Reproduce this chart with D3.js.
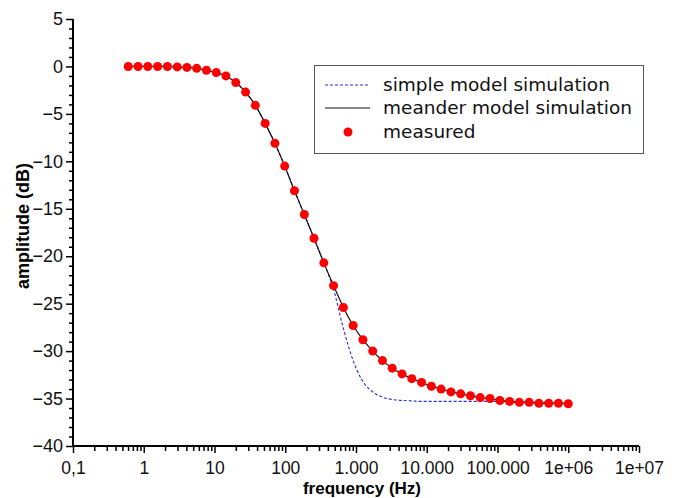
<!DOCTYPE html>
<html><head><meta charset="utf-8">
<script src="https://cdn.jsdelivr.net/npm/d3@7"></script>
<style>
html,body{margin:0;padding:0;background:#fff;}
svg{display:block;}
</style></head>
<body>
<svg id="chart" width="675" height="498"></svg>
<script>
// ---- data ----
const frequencies = [0.604, 0.830, 1.14, 1.57, 2.16, 2.97, 4.08, 5.60, 7.70, 10.6,
  14.5, 20.0, 27.5, 37.8, 52.0, 71.4, 98.2, 135, 186, 255,
  351, 482, 663, 911, 1253, 1722, 2366, 3252, 4474, 6150,
  8453, 11620, 15970, 21980, 30200, 41500, 57040, 78400, 107900, 148300,
  203700, 280000, 384900, 529600, 727800, 1000000];
const measured = [0, 0, 0, 0, 0, -0.05, -0.1, -0.2, -0.4, -0.65,
  -1.0, -1.7, -2.7, -4.1, -6.0, -8.1, -10.5, -13.1, -15.6, -18.1,
  -20.7, -23.1, -25.4, -27.3, -28.8, -30.0, -31.0, -31.8, -32.4, -32.9,
  -33.3, -33.7, -34.0, -34.3, -34.5, -34.7, -34.9, -35.0, -35.2, -35.3,
  -35.4, -35.4, -35.5, -35.5, -35.5, -35.55];
const meanderModel = [0, 0, 0, 0, 0, -0.05, -0.1, -0.2, -0.4, -0.65,
  -1.0, -1.7, -2.7, -4.1, -6.0, -8.1, -10.5, -13.1, -15.6, -18.1,
  -20.7, -23.1, -25.4, -27.3, -28.8, -30.0, -31.0, -31.8, -32.4, -32.9,
  -33.3, -33.7, -34.0, -34.3, -34.5, -34.7, -34.9, -35.0, -35.2, -35.3,
  -35.4, -35.4, -35.5, -35.5, -35.5, -35.55];
const simpleModel = [0, 0, 0, 0, 0, -0.05, -0.1, -0.2, -0.4, -0.65,
  -1.0, -1.7, -2.7, -4.1, -6.0, -8.1, -10.5, -13.1, -15.6, -18.1,
  -20.7, -23.5, -27.6, -31.0, -33.2, -34.3, -34.85, -35.1, -35.2, -35.25,
  -35.3, -35.3, -35.3, -35.3, -35.3, -35.3, -35.3, -35.3, -35.3, -35.3,
  -35.35, -35.35, -35.4, -35.4, -35.45, -35.5];
const xTickValues = [0.1, 1, 10, 100, 1000, 10000, 100000, 1e6, 1e7];
const xTickLabels = ["0,1", "1", "10", "100", "1.000", "10.000", "100.000", "1e+06", "1e+07"];
const yTickValues = [5, 0, -5, -10, -15, -20, -25, -30, -35, -40];
const yTickLabels = ["5", "0", "\u22125", "\u221210", "\u221215", "\u221220", "\u221225", "\u221230", "\u221235", "\u221240"];
const seriesNames = ["simple model simulation", "meander model simulation", "measured"];

// ---- chart ----
const svg = d3.select("#chart");
const x = d3.scaleLog().domain([0.1, 1e7]).range([73, 639]);
const y = d3.scaleLinear().domain([-40, 5]).range([446, 19]);
const font = "'Liberation Sans', Arial, sans-serif";

// minor x ticks
const xMinor = [];
for (let e = -1; e < 7; e++) for (let m = 2; m <= 9; m++) xMinor.push(m * Math.pow(10, e));
const yMinor = d3.range(-40, 6, 1).filter(v => v % 5 !== 0);

const gx = svg.append("g").attr("transform", `translate(0,${y(-40)})`);
gx.append("g").call(d3.axisBottom(x).tickValues(xMinor).tickSize(5).tickFormat("").tickSizeOuter(0))
  .call(g => g.select(".domain").remove());
gx.append("g").call(d3.axisBottom(x).tickValues(xTickValues).tickSize(7).tickPadding(9).tickSizeOuter(0)
  .tickFormat((d, i) => xTickLabels[i]))
  .call(g => g.select(".domain").remove());
gx.selectAll("line").attr("stroke", "#000").attr("stroke-width", 1.5);
gx.selectAll("text").attr("font-family", font).attr("font-size", 17.5).attr("fill", "#111");

const gy = svg.append("g").attr("transform", `translate(${x(0.1)},0)`);
gy.append("g").call(d3.axisLeft(y).tickValues(yMinor).tickSize(4).tickFormat("").tickSizeOuter(0))
  .call(g => g.select(".domain").remove());
gy.append("g").call(d3.axisLeft(y).tickValues(yTickValues).tickSize(7).tickPadding(3).tickSizeOuter(0)
  .tickFormat((d, i) => yTickLabels[i]))
  .call(g => g.select(".domain").remove());
gy.selectAll("line").attr("stroke", "#000").attr("stroke-width", 1.5);
gy.selectAll("text").attr("font-family", font).attr("font-size", 18).attr("fill", "#111");

// axis lines
svg.append("line").attr("x1", x(0.1)).attr("x2", x(0.1)).attr("y1", y(5)).attr("y2", y(-40) + 1)
  .attr("stroke", "#000").attr("stroke-width", 2);
svg.append("line").attr("x1", x(0.1) - 1).attr("x2", x(1e7)).attr("y1", y(-40)).attr("y2", y(-40))
  .attr("stroke", "#000").attr("stroke-width", 2);

// axis titles
svg.append("text").attr("x", 362).attr("y", 493.5).attr("text-anchor", "middle")
  .attr("font-family", font).attr("font-weight", "bold").attr("font-size", 17).text("frequency (Hz)");
svg.append("text").attr("transform", "translate(29,226) rotate(-90)").attr("text-anchor", "middle")
  .attr("font-family", font).attr("font-weight", "bold").attr("font-size", 18).text("amplitude (dB)");

// lines
const line = vals => d3.line().curve(d3.curveMonotoneX)
  .x((d, i) => x(frequencies[i])).y(d => y(d))(vals);
svg.append("path").attr("d", line(simpleModel)).attr("fill", "none")
  .attr("stroke", "#2a2ad8").attr("stroke-width", 1.1).attr("stroke-dasharray", "3,2");
svg.append("path").attr("d", line(meanderModel)).attr("fill", "none")
  .attr("stroke", "#111").attr("stroke-width", 1.2);

// points
svg.append("g").selectAll("circle").data(measured).join("circle")
  .attr("cx", (d, i) => x(frequencies[i])).attr("cy", d => y(d)).attr("r", 4.5).attr("fill", "#ff0000");

// legend
const lg = svg.append("g");
lg.append("rect").attr("x", 314.5).attr("y", 65.5).attr("width", 329).attr("height", 88)
  .attr("fill", "#fff").attr("stroke", "#555").attr("stroke-width", 1);
const rows = [85, 108, 132];
const lfont = "'DejaVu Sans', Verdana, sans-serif";
lg.append("line").attr("x1", 325).attr("x2", 370).attr("y1", rows[0]).attr("y2", rows[0])
  .attr("stroke", "#2a2ad8").attr("stroke-width", 1.1).attr("stroke-dasharray", "3,2");
lg.append("line").attr("x1", 325).attr("x2", 370).attr("y1", rows[1]).attr("y2", rows[1])
  .attr("stroke", "#111").attr("stroke-width", 1.2);
lg.append("circle").attr("cx", 348).attr("cy", rows[2]).attr("r", 4.5).attr("fill", "#ff0000");
seriesNames.forEach((s, i) => {
  lg.append("text").attr("x", 383).attr("y", rows[i]).attr("dy", "0.35em")
    .attr("font-family", lfont).attr("font-size", 18.5).attr("fill", "#111").text(s);
});
</script>
</body></html>
